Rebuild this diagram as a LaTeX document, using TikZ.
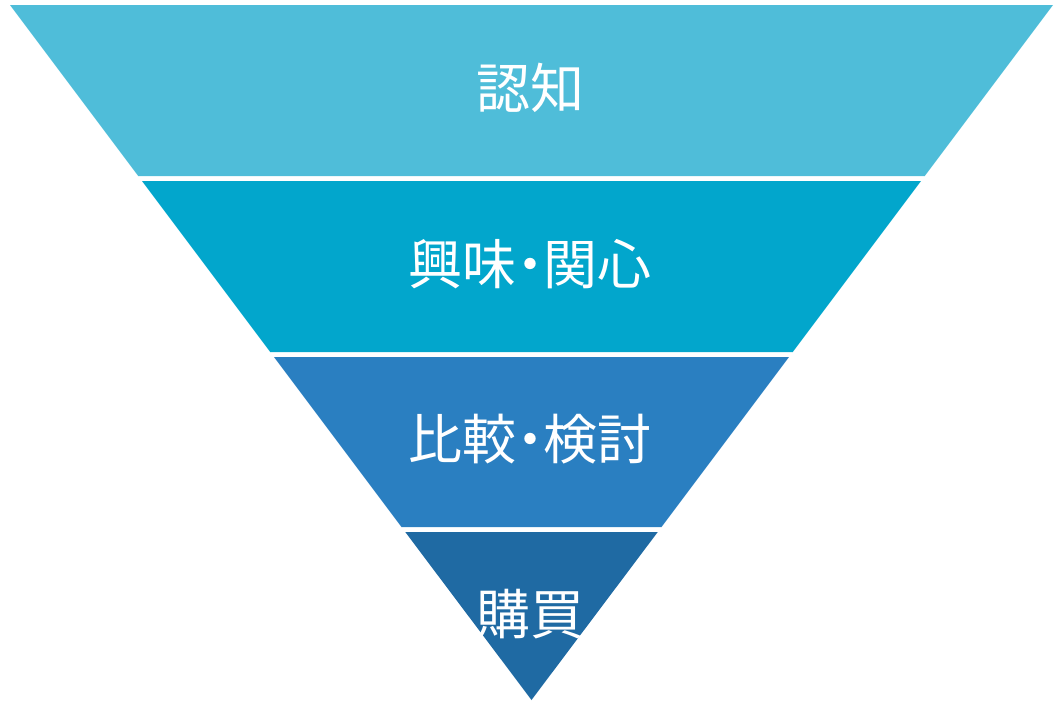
\documentclass[tikz,border=0pt]{standalone}
\usepackage{fontspec}
\newfontfamily\cjk{Noto Sans CJK JP}
\definecolor{bandA}{RGB}{79,189,217}
\definecolor{bandB}{RGB}{2,166,204}
\definecolor{bandC}{RGB}{42,127,193}
\definecolor{bandD}{RGB}{31,106,163}
\newcommand{\hdot}{\hspace{-0.25em}・\hspace{-0.25em}}
\tikzset{
  band/.style={draw=none},
  label/.style={text=white, font=\cjk\fontsize{54}{62}\selectfont, inner sep=0pt}
}
\begin{document}
\begin{tikzpicture}[x=1pt,y=-1pt]
\useasboundingbox (0,0) rectangle (1064,710);
\fill[band, bandA] (10,5) -- (1053,5) -- (924.75,176) -- (138.25,176) -- cycle;
\fill[band, bandB] (142,181) -- (921,181) -- (792.75,352) -- (270.25,352) -- cycle;
\fill[band, bandC] (274,357) -- (789,357) -- (661.5,527) -- (401.5,527) -- cycle;
\fill[band, bandD] (405.25,532) -- (657.75,532) -- (531.5,700) -- cycle;
\node[label] (t1) at (530,88) {認知};
\node[label] (t2) at (530,264) {興味\hdot 関心};
\node[label] (t3) at (530,439) {比較\hdot 検討};
\node[label] (t4) at (530,614) {購買};
\end{tikzpicture}
\end{document}
